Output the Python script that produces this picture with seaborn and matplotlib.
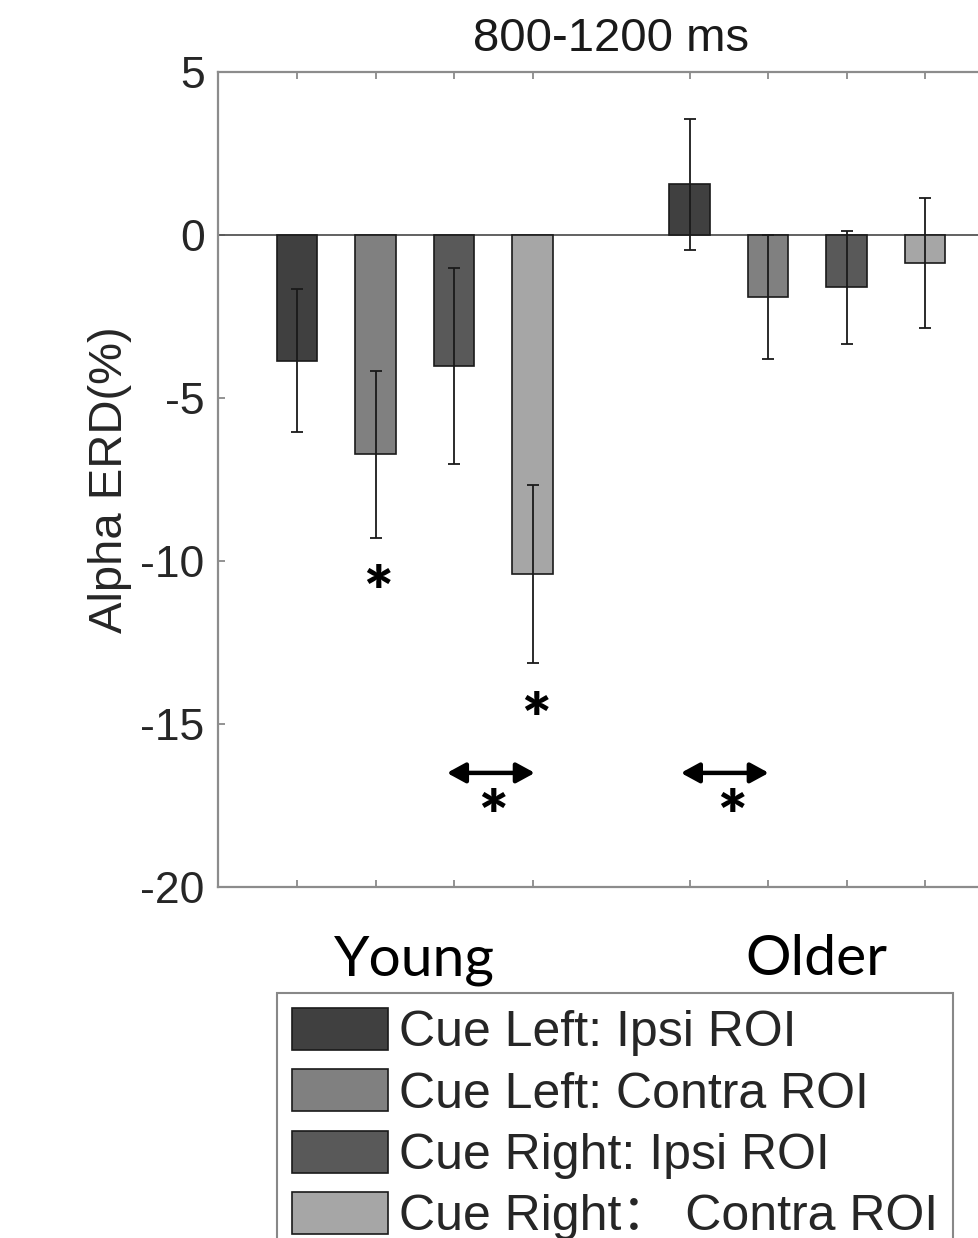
import matplotlib
matplotlib.use("Agg")
import matplotlib.pyplot as plt
from matplotlib.patches import Patch
from matplotlib.font_manager import FontProperties
import matplotlib.transforms as mtransforms
import seaborn as sns
import pandas as pd

# ---- data ----
conditions = ["Cue Left: Ipsi ROI", "Cue Left: Contra ROI",
              "Cue Right: Ipsi ROI", "Cue Right\uff1a Contra ROI"]
groups = ["Young", "Older"]
young_means = [-3.85, -6.72, -4.02, -10.4]
young_err = [2.2, 2.56, 3.0, 2.72]
older_means = [1.55, -1.9, -1.6, -0.86]
older_err = [2.0, 1.9, 1.73, 1.98]
positions = [1, 2, 3, 4, 6, 7, 8, 9]
colors = ["#404040", "#808080", "#595959", "#a6a6a6"]
yticks = [-20, -15, -10, -5, 0, 5]
title = "800-1200 ms"
ylabel = "Alpha ERD(%)"
# significance annotations (x, y in data units)
star_x = [2.03, 4.04, 3.50, 6.54]
star_y = [-10.64, -14.54, -17.52, -17.52]
arrow_x0 = [2.91, 5.89]
arrow_x1 = [4.03, 7.01]
arrow_y = [-16.5, -16.5]

sns.set_style("white")
plt.rcParams["font.family"] = ["Liberation Sans", "Noto Sans CJK SC", "DejaVu Sans"]

df = pd.DataFrame({
    "pos": positions,
    "value": young_means + older_means,
    "err": young_err + older_err,
    "condition": conditions * 2,
    "group": [groups[0]] * 4 + [groups[1]] * 4,
})

fig = plt.figure(figsize=(9.79, 12.38), dpi=100)
ax = fig.add_axes([218.5 / 979, 1 - 887 / 1238, 785 / 979, 815 / 1238])

sns.barplot(data=df, x="pos", y="value", hue="condition", hue_order=conditions,
            palette=dict(zip(conditions, colors)), native_scale=True, dodge=False,
            width=0.51, edgecolor="#1a1a1a", linewidth=1.2, errorbar=None,
            legend=False, ax=ax, zorder=2)

ax.axhline(0, color="#555555", lw=1.3, zorder=1)
ax.errorbar(df["pos"], df["value"], yerr=df["err"], fmt="none",
            ecolor="#1a1a1a", elinewidth=1.3, capsize=4.6, capthick=1.3, zorder=3)

ax.set_xlim(0, 10)
ax.set_ylim(-20, 5)
ax.set_yticks(yticks)
ax.set_yticklabels([str(t) for t in yticks])
ax.set_xticks(positions)
ax.set_xticklabels([])
ax.set_xlabel("")
ax.set_ylabel(ylabel, fontsize=34, color="#262626", labelpad=6)
ax.set_title(title, fontsize=34, color="#1a1a1a", pad=15)
ax.tick_params(axis="y", direction="in", length=5, width=1.2, color="#808080",
               labelsize=32, labelcolor="#262626", pad=10, left=True, right=True)
ax.tick_params(axis="x", direction="in", length=5, width=1.2, color="#808080",
               top=True, bottom=True)
for s in ax.spines.values():
    s.set_color("#8c8c8c")
    s.set_linewidth(1.6)

# significance stars and arrows
for x, y in zip(star_x, star_y):
    ax.text(x, y - 0.45, "*", fontsize=50, fontweight="heavy", family="Lato",
            ha="center", va="center", color="black")
for x0, x1, y in zip(arrow_x0, arrow_x1, arrow_y):
    ax.annotate("", xy=(x1, y), xytext=(x0, y),
                arrowprops=dict(arrowstyle="<|-|>,head_length=0.55,head_width=0.3",
                                mutation_scale=20, lw=3.2, color="black",
                                shrinkA=0, shrinkB=0))

# group labels
trans = mtransforms.blended_transform_factory(ax.transData, fig.transFigure)
for gx, g in zip([2.5, 7.61], groups):
    ax.text(gx, 1 - 975 / 1238, g, transform=trans, fontsize=41, family="Lato",
            ha="center", va="baseline", color="black", clip_on=False)

handles = [Patch(facecolor=c, edgecolor="#1a1a1a", linewidth=1.2) for c in colors]
leg = fig.legend(handles, conditions, loc="upper left",
                 bbox_to_anchor=(277 / 979, 1 - 993 / 1238),
                 bbox_transform=fig.transFigure, borderaxespad=0,
                 prop=FontProperties(family=["Liberation Sans", "Noto Sans CJK SC"], size=36),
                 handlelength=1.92, handleheight=0.92, handletextpad=0.22,
                 labelspacing=0.26, borderpad=0.3, fancybox=False,
                 edgecolor="#888888", framealpha=1)
leg.get_frame().set_linewidth(1.5)

fig.savefig("out.png", dpi=100)
